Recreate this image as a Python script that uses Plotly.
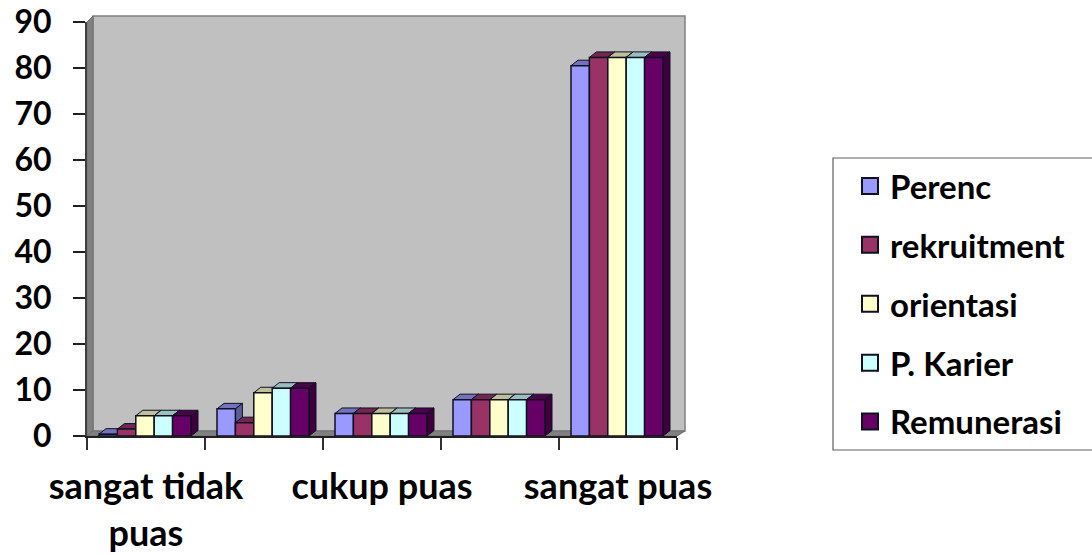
import plotly.graph_objects as go

categories = ["sangat tidak puas", "tidak puas", "cukup puas", "puas", "sangat puas"]
tick_labels = ["sangat tidak<br>puas", "", "cukup puas", "", "sangat puas"]
series_names = ["Perenc", "rekruitment", "orientasi", "P. Karier", "Remunerasi"]
perenc = [0.4, 5.9, 4.9, 7.9, 80.5]
rekruitment = [1.5, 2.9, 4.9, 7.9, 82.3]
orientasi = [4.4, 9.4, 4.9, 7.9, 82.3]
karier = [4.4, 10.4, 4.9, 7.9, 82.3]
remunerasi = [4.4, 10.4, 4.9, 7.9, 82.3]
series_values = [perenc, rekruitment, orientasi, karier, remunerasi]
front = ["#9999FF", "#993366", "#FFFFCC", "#CCFFFF", "#660066"]
top = ["#7272BF", "#732650", "#BFBF99", "#99BFBF", "#4C004C"]
side = ["#5C5C99", "#5C1F3D", "#99997A", "#7A9999", "#3D003D"]

W, H = 1092, 555
L, R, T, B = 87, 677, 22, 436
ymax = 90
n = len(categories)
px_x = (R - L) / n
px_y = (B - T) / ymax
dx, dy = 7 / px_x, 5.5 / px_y
bar_w = 18.4 / px_x
shift = -1 / px_x
FONT = "Lato"

def px(x): return (x - L) / (R - L)
def py(y): return (B - y) / (B - T)
def poly(pts): return "M" + " L".join(f"{a},{b}" for a, b in pts) + " Z"

fig = go.Figure()
shapes = []
wall = [(93, 16), (685, 16), (685, 431), (93, 431)]
shapes.append(dict(type="path", xref="paper", yref="paper", layer="below",
                   path=poly([(px(a), py(b)) for a, b in wall]),
                   fillcolor="#C0C0C0", line=dict(color="#808080", width=1.5)))
lw = [(87, 436), (87, 22), (93, 16), (93, 431)]
shapes.append(dict(type="path", xref="paper", yref="paper", layer="below",
                   path=poly([(px(a), py(b)) for a, b in lw]),
                   fillcolor="#808080", line=dict(color="#707070", width=1)))
fl = [(87, 436), (93, 431), (685, 431), (677, 436)]
shapes.append(dict(type="path", xref="paper", yref="paper", layer="below",
                   path=poly([(px(a), py(b)) for a, b in fl]),
                   fillcolor="#808080", line=dict(color="#707070", width=1)))
box = [(833, 158), (1100, 158), (1100, 450), (833, 450)]
shapes.append(dict(type="path", xref="paper", yref="paper", layer="below",
                   path=poly([(px(a), py(b)) for a, b in box]),
                   fillcolor="white", line=dict(color="#606060", width=1.2)))

m = len(series_names)
for i, (name, vals) in enumerate(zip(series_names, series_values)):
    off = shift + (i - m / 2) * bar_w
    fig.add_trace(go.Bar(x=list(range(n)), y=vals, name=name, width=bar_w, offset=off,
                         marker=dict(color=front[i], line=dict(color="#101020", width=1.5)),
                         showlegend=False, hovertext=categories))
    for j, v in enumerate(vals):
        x0, x1 = j + off, j + off + bar_w
        shapes.append(dict(type="path", layer="below", xref="x", yref="y",
                           path=poly([(x0, v), (x0 + dx, v + dy), (x1 + dx, v + dy), (x1, v)]),
                           fillcolor=top[i], line=dict(color="#101020", width=1)))
        shapes.append(dict(type="path", layer="below", xref="x", yref="y",
                           path=poly([(x1, 0), (x1, v), (x1 + dx, v + dy), (x1 + dx, dy)]),
                           fillcolor=side[i], line=dict(color="#101020", width=1)))
    fig.add_trace(go.Scatter(x=[None], y=[None], mode="markers", name=name, legendgroup=name,
                             marker=dict(symbol="square", size=16, color=front[i],
                                         line=dict(color="#101020", width=2))))

fig.update_layout(
    width=W, height=H, autosize=False,
    margin=dict(l=L, r=W - R, t=T, b=H - B, autoexpand=False),
    paper_bgcolor="white", plot_bgcolor="rgba(0,0,0,0)",
    font=dict(family=FONT, size=32, color="black", weight="bold"),
    shapes=shapes, bargap=0.23,
    xaxis=dict(range=[-0.5, n - 0.5], tickmode="array",
               tickvals=[k for k, t in enumerate(tick_labels) if t],
               ticktext=[t for t in tick_labels if t],
               ticks="", showgrid=False, zeroline=False, ticklabelstandoff=18,
               showline=True, linecolor="#202020", linewidth=1.5,
               minor=dict(tickmode="array", tickvals=[k - 0.5 for k in range(n + 1)],
                          ticks="outside", ticklen=12, tickcolor="#303030", tickwidth=1.5, showgrid=False),
               tickfont=dict(family=FONT, size=36, color="black", weight="bold")),
    yaxis=dict(range=[0, ymax], dtick=10, ticks="outside", ticklen=12, tickcolor="#202020",
               tickwidth=1.5, showgrid=False, zeroline=False, ticklabelstandoff=15,
               showline=True, linecolor="#404040", linewidth=2,
               tickfont=dict(family=FONT, size=32, color="black", weight="bold")),
    legend=dict(x=px(850), y=py(158), xanchor="left", yanchor="top",
                bgcolor="rgba(0,0,0,0)", borderwidth=0, tracegroupgap=13,
                itemsizing="trace", font=dict(family=FONT, size=33, color="black", weight="bold")),
)
fig.write_html("out.html", config={"displayModeBar": False},
               post_script="document.body.style.margin='0';")
